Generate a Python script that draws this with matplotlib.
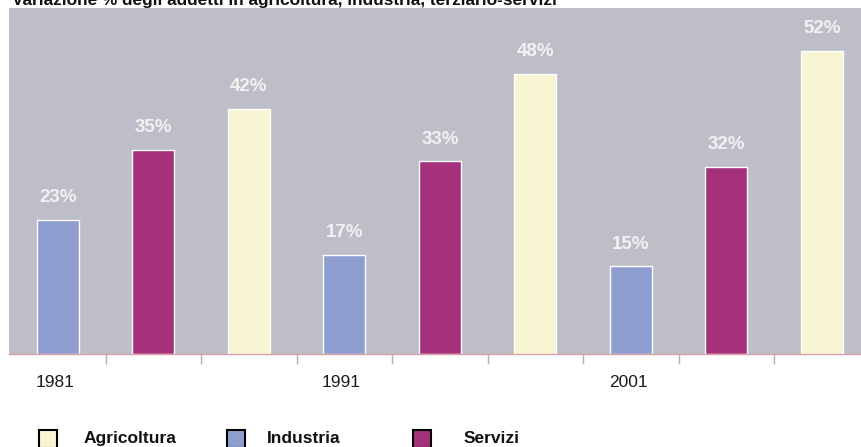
import matplotlib.pyplot as plt
from matplotlib.patches import Rectangle

# dati
anni = ["1981", "1991", "2001"]
industria = [23, 17, 15]
servizi = [35, 33, 32]
agricoltura = [42, 48, 52]

col_ind = "#8e9dd0"
col_ser = "#a5307c"
col_agr = "#f8f6d2"
sfondo = "#bdbec7"

W, H = 861, 447
fig = plt.figure(figsize=(W / 100, H / 100), dpi=100)
plt.rcParams['font.family'] = ['Liberation Sans', 'DejaVu Sans']

ax = fig.add_axes([9 / W, (H - 354) / H, 1 - 9 / W, (354 - 8) / H])
ax.set_facecolor(sfondo)

for j in range(len(anni)):
    serie = [(industria[j], col_ind), (servizi[j], col_ser), (agricoltura[j], col_agr)]
    for k, (v, c) in enumerate(serie):
        x = 3 * j + k
        ax.bar(x, v, width=0.44, color=c, edgecolor="white", linewidth=1)
        ax.annotate(f"{v}%", (x, v), xytext=(0, 10), textcoords="offset points",
                    ha="center", va="bottom", fontsize=13.5, fontweight="bold",
                    color="#f2f2f2")

ax.set_xlim(-0.513, 8.41)
ax.set_ylim(0, 59.3)
ax.set_yticks([])
ax.set_xticks([i + 0.5 for i in range(8)])
ax.set_xticklabels([])
ax.tick_params(axis="x", length=7, color="#a8b6cc", width=1)
for s in ["top", "left", "right"]:
    ax.spines[s].set_visible(False)
ax.spines["bottom"].set_color("#d8a0a8")
ax.spines["bottom"].set_linewidth(1)

for j, a in enumerate(anni):
    ax.text(3 * j - 0.03, -4.9, a, ha="center", va="center", fontsize=12.5,
            color="#1a1a1a")

# titolo tagliato in alto
fig.text(12 / W, 1 - 5 / H,
         "Variazione % degli addetti in agricoltura, industria, terziario-servizi",
         ha="left", va="baseline", fontsize=12.4, fontweight="bold", color="#111111")

# legenda
voci = [("Agricoltura", col_agr, 39, 84), ("Industria", col_ind, 227, 267),
        ("Servizi", col_ser, 413, 464)]
for nome, c, xq, xt in voci:
    fig.add_artist(Rectangle((xq / W, (H - 448) / H), 18 / W, 18 / H,
                             transform=fig.transFigure, facecolor=c,
                             edgecolor="black", linewidth=1.5))
    fig.text(xt / W, (H - 443) / H, nome, ha="left", va="baseline",
             fontsize=12.5, fontweight="bold", color="#111111")

fig.savefig("out.png", dpi=100)
